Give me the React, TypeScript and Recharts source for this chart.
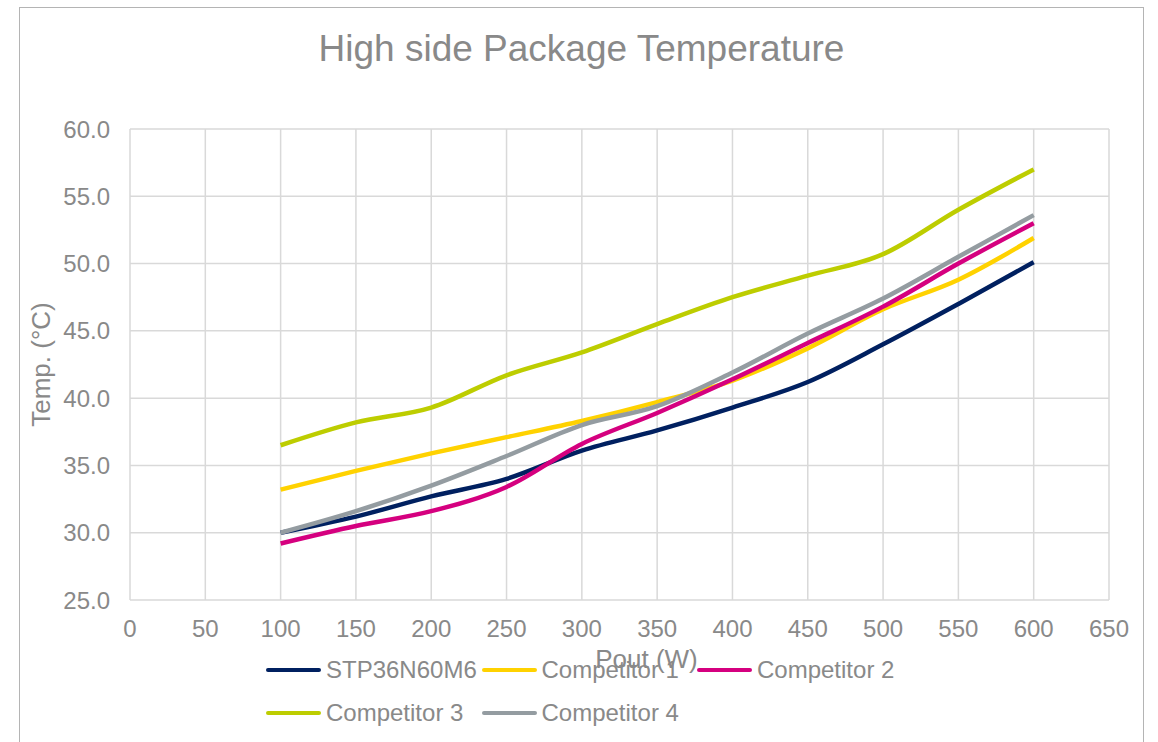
import React from "react";
import { LineChart, Line, XAxis, YAxis, CartesianGrid } from "recharts";

const powerOut = [100, 150, 200, 250, 300, 350, 400, 450, 500, 550, 600];
const stp36n60m6 = [30.0, 31.2, 32.7, 34.0, 36.1, 37.6, 39.3, 41.2, 44.0, 47.0, 50.1];
const competitor1 = [33.2, 34.6, 35.9, 37.1, 38.3, 39.7, 41.3, 43.7, 46.6, 48.8, 51.9];
const competitor2 = [29.2, 30.5, 31.6, 33.4, 36.6, 38.9, 41.4, 44.1, 46.8, 50.0, 53.0];
const competitor3 = [36.5, 38.2, 39.3, 41.7, 43.4, 45.5, 47.5, 49.1, 50.7, 54.0, 57.0];
const competitor4 = [30.0, 31.6, 33.5, 35.7, 38.0, 39.4, 41.9, 44.8, 47.4, 50.5, 53.6];

const xTicks = [0, 50, 100, 150, 200, 250, 300, 350, 400, 450, 500, 550, 600, 650];
const yTicks = [25, 30, 35, 40, 45, 50, 55, 60];

const series = [
  { key: "stp", name: "STP36N60M6", values: stp36n60m6, color: "#002060" },
  { key: "c1", name: "Competitor 1", values: competitor1, color: "#FFD200" },
  { key: "c2", name: "Competitor 2", values: competitor2, color: "#D5007F" },
  { key: "c3", name: "Competitor 3", values: competitor3, color: "#BDCD00" },
  { key: "c4", name: "Competitor 4", values: competitor4, color: "#949CA1" },
];

const data = powerOut.map((p, i) => {
  const row: Record<string, number> = { p };
  series.forEach((s) => {
    row[s.key] = s.values[i];
  });
  return row;
});

const FONT = "'Liberation Sans', Arial, sans-serif";
const TEXT = "#898989";

export default function App() {
  return (
    <div
      style={{
        position: "absolute",
        left: 0,
        top: 0,
        width: 1158,
        height: 742,
        background: "#fff",
        fontFamily: FONT,
        overflow: "hidden",
      }}
    >
      <div
        style={{
          position: "absolute",
          left: 19,
          top: 7,
          width: 1125,
          height: 760,
          border: "1.5px solid #b4b4b4",
          boxSizing: "border-box",
        }}
      />
      <div
        style={{
          position: "absolute",
          left: 19,
          width: 1125,
          top: 30,
          textAlign: "center",
          fontSize: 37,
          lineHeight: "37px",
          color: TEXT,
        }}
      >
        High side Package Temperature
      </div>
      <div style={{ position: "absolute", left: 0, top: 0 }}>
        <LineChart
          width={1158}
          height={742}
          data={data}
          margin={{ top: 129, right: 49, left: 0, bottom: 102 }}
        >
          <CartesianGrid stroke="#d9d9d9" strokeWidth={1.5} />
          <XAxis
            dataKey="p"
            type="number"
            domain={[0, 650]}
            ticks={xTicks}
            height={40}
            axisLine={false}
            tickLine={false}
            tickSize={0}
            tickMargin={20}
            interval={0}
            tick={{ fill: TEXT, fontSize: 24, fontFamily: FONT }}
            label={{
              value: "Pout (W)",
              position: "bottom",
              offset: 10,
              dx: 27,
              fill: TEXT,
              fontSize: 26,
              fontFamily: FONT,
            }}
          />
          <YAxis
            type="number"
            domain={[25, 60]}
            ticks={yTicks}
            width={130}
            axisLine={false}
            tickLine={false}
            tickSize={0}
            tickMargin={20}
            interval={0}
            tickFormatter={(v: number) => v.toFixed(1)}
            tick={{ fill: TEXT, fontSize: 24, fontFamily: FONT }}
            label={{
              value: "Temp. (°C)",
              position: "center",
              angle: -90,
              dx: -24,
              fill: TEXT,
              fontSize: 26,
              fontFamily: FONT,
            }}
          />
          {series.map((s) => (
            <Line
              key={s.key}
              dataKey={s.key}
              name={s.name}
              type="monotone"
              stroke={s.color}
              strokeWidth={4.5}
              dot={false}
              isAnimationActive={false}
            />
          ))}
        </LineChart>
      </div>
      {series.map((s, i) => {
        const col = i % 3;
        const row = Math.floor(i / 3);
        const left = 266 + col * 215.5;
        const cy = 670 + row * 43;
        return (
          <div
            key={s.key}
            style={{
              position: "absolute",
              left,
              top: cy - 15,
              height: 30,
              display: "flex",
              alignItems: "center",
              whiteSpace: "nowrap",
            }}
          >
            <div
              style={{
                width: 55,
                height: 4.5,
                borderRadius: 3,
                background: s.color,
                marginRight: 5,
              }}
            />
            <span style={{ fontSize: 24, color: TEXT, lineHeight: "30px" }}>{s.name}</span>
          </div>
        );
      })}
    </div>
  );
}
